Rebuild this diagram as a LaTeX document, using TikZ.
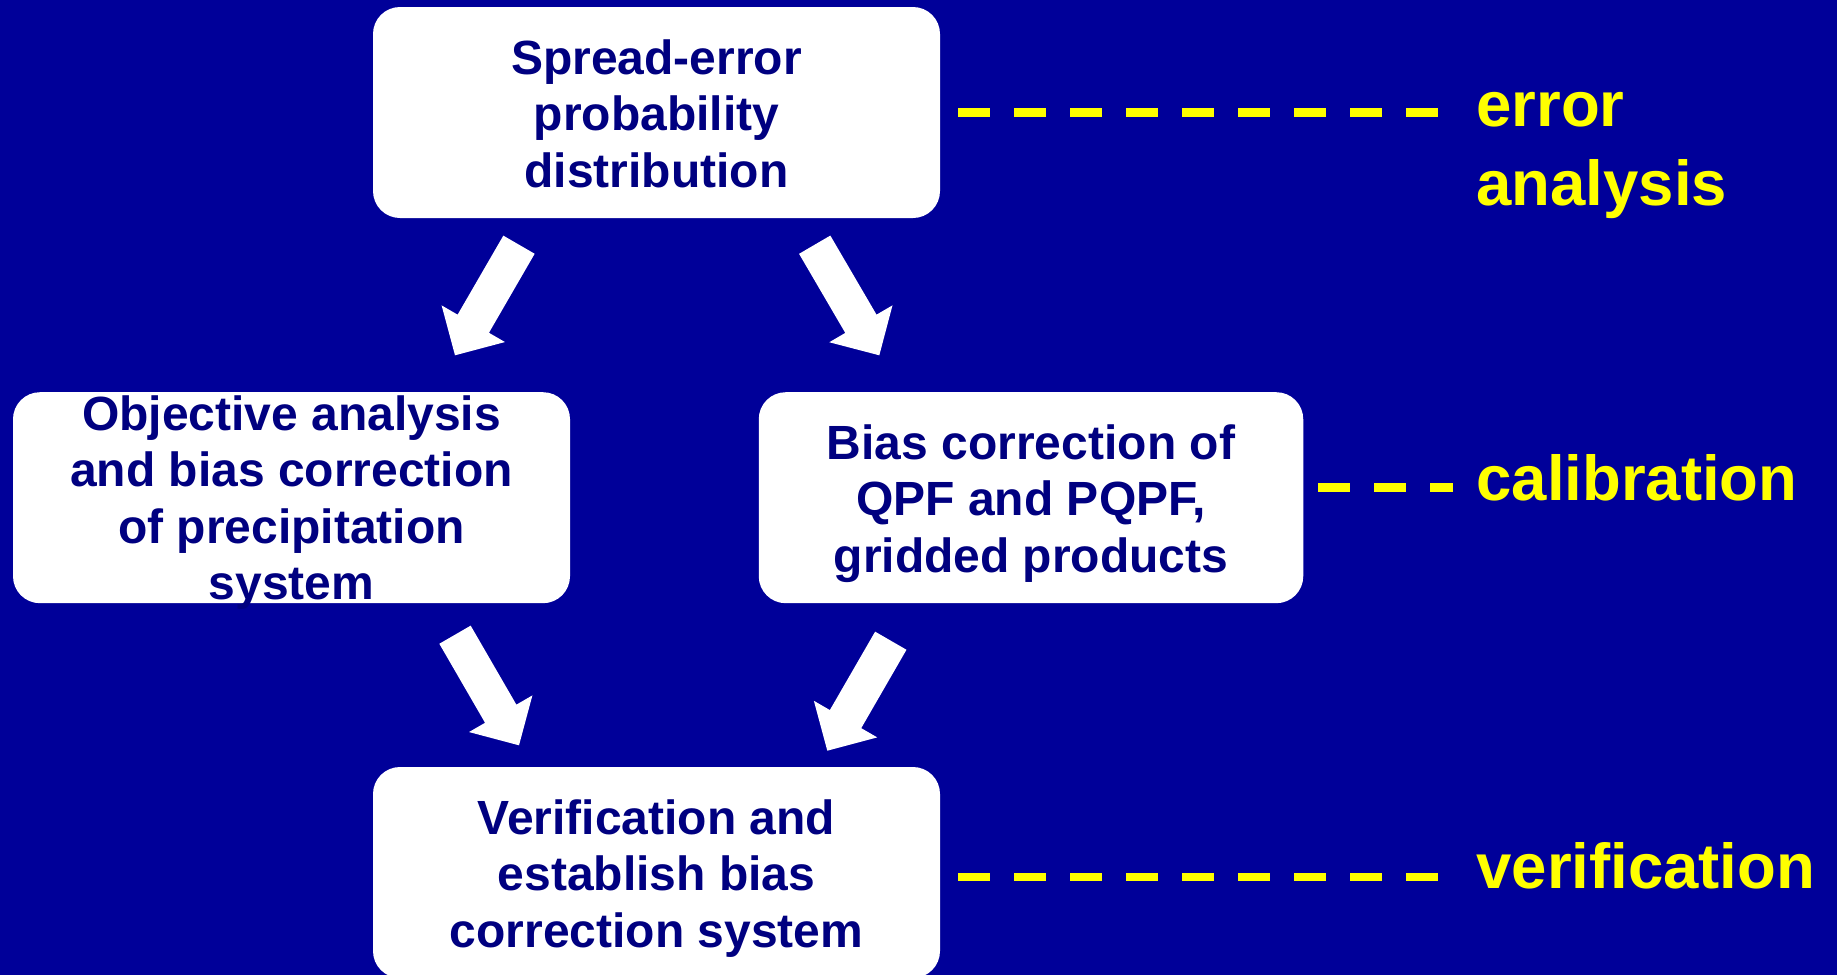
\documentclass[tikz,border=0pt]{standalone}
\usepackage{fontspec}
\setmainfont{Liberation Sans}
\usetikzlibrary{calc}

\definecolor{slidebg}{RGB}{0,0,153}
\definecolor{navytext}{RGB}{0,0,128}
\definecolor{tagyellow}{RGB}{255,255,0}

\tikzset{
  card/.style={fill=white, draw=none, rounded corners=13.5pt,
    minimum height=105.5pt, inner sep=0pt, outer sep=0pt},
  cardtext/.style={text=navytext, align=center, inner sep=0pt, anchor=north,
    font=\bfseries\fontsize{24pt}{28.25pt}\selectfont},
  tag/.style={text=tagyellow, inner sep=0pt,
    font=\bfseries\fontsize{31.75pt}{39.25pt}\selectfont},
  leader/.style={draw=tagyellow, line width=4.25pt, dash pattern=on 16pt off 12pt},
}

% broad white arrow from #1 (tail) to #2 (tip)
\newcommand\fatarrow[2]{%
  \coordinate (#1-hb) at ($(#2)!18.25pt!(#1)$);
  \fill[white]
    ($(#1)!9.05pt!-90:(#2)$)
    -- ($(#1-hb)!9.05pt!-90:(#2)$)
    -- ($(#1-hb)!18.3pt!-90:(#2)$)
    -- (#2)
    -- ($(#1-hb)!18.3pt!90:(#2)$)
    -- ($(#1-hb)!9.05pt!90:(#2)$)
    -- ($(#1)!9.05pt!90:(#2)$)
    -- cycle;%
}

\begin{document}
\begin{tikzpicture}[x=0.5pt,y=-0.5pt]
  \clip (0,0) rectangle (1837,975);
  \fill[slidebg] (0,0) rectangle (1837,975);

  % boxes
  \node[card, minimum width=283.5pt]  (spread)    at (656.5,112.5) {};
  \node[card, minimum width=278.5pt]  (objective) at (291.5,497.7) {};
  \node[card, minimum width=272.25pt] (bias)      at (1031,497.7)  {};
  \node[card, minimum width=283.5pt]  (verif)     at (656.5,872.5) {};

  % box texts
  \node[cardtext] (spreadtxt)    at ([yshift=-16pt]spread.north)   {Spread-error\\probability\\distribution};
  \node[cardtext] (objectivetxt) at ([yshift=-1.4pt]objective.north) {Objective analysis\\and bias correction\\of precipitation\\system};
  \node[cardtext] (biastxt)      at ([yshift=-16pt]bias.north)     {Bias correction of\\QPF and PQPF,\\gridded products};
  \node[cardtext] (veriftxt)     at ([yshift=-16pt]verif.north)    {Verification and\\establish bias\\correction system};

  % broad arrows between the boxes
  \coordinate (a1s) at (519,244.7);   \coordinate (a1e) at (455,355.3);
  \coordinate (a2s) at (814.7,244.7); \coordinate (a2e) at (879.3,355.3);
  \coordinate (a3s) at (455,634.7);   \coordinate (a3e) at (519,745.3);
  \coordinate (a4s) at (890.8,640.7); \coordinate (a4e) at (827.3,750.7);
  \fatarrow{a1s}{a1e}
  \fatarrow{a2s}{a2e}
  \fatarrow{a3s}{a3e}
  \fatarrow{a4s}{a4e}

  % stage tags
  \node[tag, anchor=north west, align=left] (errtag) at (1476,92) {error\\analysis};
  \node[tag, anchor=base west] (caltag) at (1476,500) {calibration};
  \node[tag, anchor=base west] (vertag) at (1476,888) {verification};

  % dashed leaders from the boxes to the tags
  \coordinate (errstart) at ([xshift=9pt]spread.east);
  \coordinate (errend)   at ([xshift=-19pt]errtag.west);
  \draw[leader] (errstart) -- (errend |- errstart);

  \coordinate (calstart) at ([xshift=7.5pt,yshift=5pt]bias.east);
  \coordinate (calend)   at ([xshift=-11.5pt]caltag.west);
  \draw[leader] (calstart) -- (calend |- calstart);

  \coordinate (verstart) at ([xshift=9pt,yshift=-2.25pt]verif.east);
  \coordinate (verend)   at ([xshift=-19pt]vertag.west);
  \draw[leader] (verstart) -- (verend |- verstart);
\end{tikzpicture}
\end{document}
